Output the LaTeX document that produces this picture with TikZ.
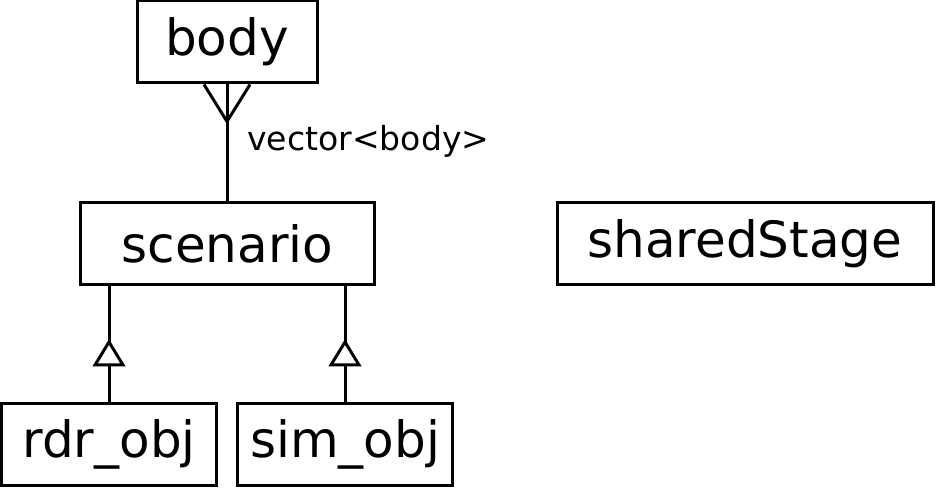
\documentclass[tikz,border=0pt]{standalone}
\usepackage{fontspec}
\setmainfont{DejaVu Sans}
\usepackage{tikz}
\usetikzlibrary{calc,decorations.markings}
\tikzstyle{block}    = [rectangle,
                        draw,
                        line width=2.25pt,
                        text centered,
                        minimum height=61.5pt,
                        inner sep=0pt,
                        font=\fontsize{37.5}{42}\selectfont]
\tikzstyle{line}     = [draw, line width=2.25pt]
\tikzstyle{inherit}  = [line,
                        postaction={decorate},
                        decoration={markings,
                          mark=at position 45pt with {\draw[line, fill=white, line join=miter]
                            (0pt,0pt) -- (-17.25pt,10.5pt) -- (-17.25pt,-10.5pt) -- cycle;}}]

\begin{document}
\begin{tikzpicture}[%
  x=0.75pt,
  y=-0.75pt
  ]
  \useasboundingbox (0,0) rectangle (936,488);

  % Nodes:
  \node (body) [block, minimum width=135pt] at (227,42) {body};
  \node (scenario) [block, minimum width=220pt] at (227.5,243.5) {scenario};
  \node (sharedStage) [block, minimum width=282pt] at (745,243.5) {sharedStage};
  \node (rdr-obj) [block, minimum width=161pt] at (109,444.5) {rdr\_obj};
  \node (sim-obj) [block, minimum width=161pt] at (345,444.5) {sim\_obj};

  \coordinate (foot) at ($(body.south)+(0,37)$);
  \node (vlabel) [anchor=west, inner sep=0pt, font=\fontsize{24.8}{28}\selectfont] at (247,141) {vector<body>};

  % Connectors:
  \draw[line] (body.south) -- (body.south |- scenario.north);
  \draw[line] ($(body.south)+(-23,0)$) -- (foot) -- ($(body.south)+(23,0)$);
  \draw[inherit] (rdr-obj.north) -- (rdr-obj.north |- scenario.south);
  \draw[inherit] (sim-obj.north) -- (sim-obj.north |- scenario.south);
\end{tikzpicture}
\end{document}
